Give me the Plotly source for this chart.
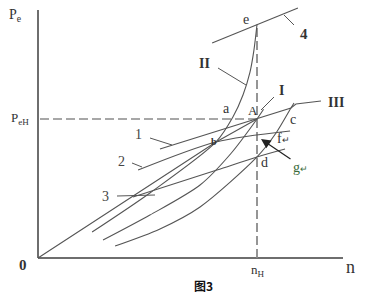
import plotly.graph_objects as go

# ---- data (n relative to nH, Pe relative to PeH) ----
origin_n = [0.0, 0.813, 1.0]
origin_pe = [0.0, 0.835, 1.0]

curveII_n = [0.247, 0.511, 0.813, 0.890, 0.936, 0.968, 0.986, 1.0]
curveII_pe = [0.187, 0.468, 0.835, 1.014, 1.173, 1.338, 1.496, 1.68]

curveI_n = [0.297, 0.511, 0.740, 0.880, 1.0, 1.03]
curveI_pe = [0.129, 0.309, 0.525, 0.750, 1.0, 1.07]

curve3c_n = [0.352, 0.557, 0.740, 1.0, 1.087, 1.155, 1.169]
curve3c_pe = [0.086, 0.209, 0.367, 0.727, 0.899, 1.079, 1.115]

line1_n = [0.557, 1.0, 1.155, 1.178, 1.292]
line1_pe = [0.784, 1.0, 1.079, 1.108, 1.129]

line2_n = [0.457, 0.813, 1.151]
line2_pe = [0.633, 0.835, 0.914]

line3_n = [0.434, 0.817, 1.0, 1.128]
line3_pe = [0.439, 0.633, 0.727, 0.784]

line4_n = [0.795, 1.187]
line4_pe = [1.547, 1.799]

nH = 1.0
PeH = 1.0

X0, SX = 38, 219
Y0, SY = 258, 139


def dx(px):
    return (px - X0) / SX


def dy(py):
    return (Y0 - py) / SY


fig = go.Figure()
curve_col = "#555555"


def add_line(xs, ys, color=curve_col, width=1.1, dash=None):
    fig.add_trace(go.Scatter(x=xs, y=ys, mode="lines",
                             line=dict(color=color, width=width, dash=dash, shape="spline", smoothing=0.8),
                             hoverinfo="skip", showlegend=False))


def add_straight(xs, ys, color=curve_col, width=1.1, dash=None):
    fig.add_trace(go.Scatter(x=xs, y=ys, mode="lines",
                             line=dict(color=color, width=width, dash=dash),
                             hoverinfo="skip", showlegend=False))


# axes
add_straight([0, 0], [0, dy(10)], color="#6e6e6e", width=2)
add_straight([0, dx(343)], [0, 0], color="#6e6e6e", width=2)

# dashed reference lines
add_straight([dx(40), nH], [PeH, PeH], color="#8a8a8a", width=1.6, dash="9px,4px")
add_straight([nH, nH], [0, 1.68], color="#8a8a8a", width=1.8, dash="9px,4px")

# curves
add_straight(origin_n, origin_pe)
add_line(curveII_n, curveII_pe)
add_line(curveI_n, curveI_pe)
add_line(curve3c_n, curve3c_pe)
add_straight(line1_n, line1_pe)
add_line(line2_n, line2_pe)
add_line(line3_n, line3_pe)
add_straight(line4_n, line4_pe)

# leader lines
leaders = [
    ((274, 97), (261, 110)),
    ((218, 68), (246, 85)),
    ((284, 15), (294, 25)),
    ((150, 138), (172, 145)),
    ((132, 163), (142, 167)),
    ((117, 196), (155, 195)),
]
for (p1, p2) in leaders:
    add_straight([dx(p1[0]), dx(p2[0])], [dy(p1[1]), dy(p2[1])], width=1)

serif = "Liberation Serif"
labels = [
    (15, 15, "P<sub>e</sub>", 14, "#333"),
    (20, 118, "P<sub>eH</sub>", 13, "#333"),
    (23, 265, "<b>0</b>", 15, "#333"),
    (350, 267, "n", 18, "#333"),
    (258, 270, "n<sub>H</sub>", 13, "#333"),
    (246, 19, "e", 14, "#333"),
    (226, 108, "a", 14, "#333"),
    (253, 110, "A", 13, "#333"),
    (214, 141, "<b>b</b>", 10, "#333"),
    (293, 119, "c", 14, "#333"),
    (264, 162, "d", 14, "#333"),
    (283, 138, "f<span style='font-size:9px'>↵</span>", 14, "#333"),
    (300, 167, "g<span style='font-size:9px'>↵</span>", 14, "#3a6b3a"),
    (281, 90, "<b>I</b>", 14, "#333"),
    (204, 63, "<b>II</b>", 14, "#333"),
    (336, 102, "<b>III</b>", 14, "#333"),
    (304, 34, "<b>4</b>", 15, "#333"),
    (138, 134, "1", 14, "#444"),
    (121, 161, "2", 14, "#444"),
    (105, 196, "3", 14, "#444"),
]
for (px, py, t, s, c) in labels:
    fig.add_annotation(x=dx(px), y=dy(py), text=t, showarrow=False,
                       font=dict(family=serif, size=s, color=c), xanchor="center", yanchor="middle")

fig.add_annotation(x=dx(203), y=dy(285), text="<b>图3</b>", showarrow=False,
                   font=dict(family="Noto Sans CJK SC", size=12, color="#111"),
                   xanchor="center", yanchor="middle")

# arrow for g
fig.add_annotation(x=dx(261), y=dy(139), ax=dx(292), ay=dy(160), axref="x", ayref="y",
                   xref="x", yref="y", text="", showarrow=True, arrowhead=2,
                   arrowsize=1.6, arrowwidth=1.2, arrowcolor="#222")

fig.update_xaxes(range=[dx(0), dx(371)], visible=False)
fig.update_yaxes(range=[dy(306), dy(0)], visible=False)
fig.update_layout(width=371, height=306, margin=dict(l=0, r=0, t=0, b=0),
                  paper_bgcolor="white", plot_bgcolor="white", showlegend=False)

fig.write_html("out.html", config={"displayModeBar": False})
